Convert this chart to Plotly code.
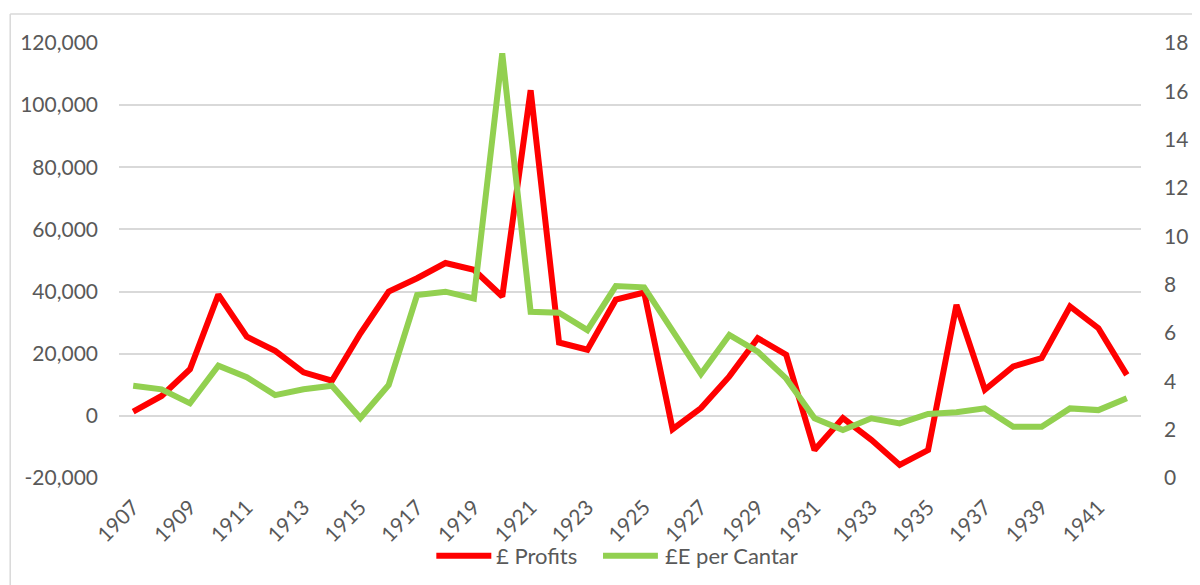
import plotly.graph_objects as go

years = list(range(1907, 1943))
profits = [1400, 6400, 15000, 39000, 25500, 20900, 14000, 11300, 26500, 40000,
           44300, 49200, 47000, 38400, 104800, 23600, 21300, 37400, 39700, -4300,
           2500, 12700, 25000, 19700, -11000, -700, -7700, -15800, -11000, 35700,
           8400, 15900, 18600, 35200, 28200, 13200]
per_cantar = [3.82, 3.67, 3.09, 4.65, 4.17, 3.43, 3.67, 3.82, 2.48, 3.85,
              7.57, 7.71, 7.43, 17.57, 6.88, 6.84, 6.12, 7.94, 7.89, 6.12,
              4.30, 5.92, 5.23, 4.12, 2.47, 1.99, 2.47, 2.26, 2.65, 2.72,
              2.88, 2.12, 2.12, 2.88, 2.81, 3.30]
left_ticks = [-20000, 0, 20000, 40000, 60000, 80000, 100000, 120000]
right_ticks = [0, 2, 4, 6, 8, 10, 12, 14, 16, 18]
x_ticks = years[::2]
series_names = ["£ Profits", "£E per Cantar"]
series_colors = ["#FF0000", "#92D050"]

FONT = "Lato"
GREY = "#595959"

fig = go.Figure()
fig.add_trace(go.Scatter(x=years, y=profits, name=series_names[0], mode="lines",
                         line=dict(color=series_colors[0], width=6), yaxis="y"))
fig.add_trace(go.Scatter(x=years, y=per_cantar, name=series_names[1], mode="lines",
                         line=dict(color=series_colors[1], width=6), yaxis="y2"))

W, H = 1192, 577
L, R, T, B = 109, 59, 35, 107
pw = W - L - R
ph = H - T - B
bx = (0 - L) / pw
by = (H - B - 6) / ph

# custom legend (paper coordinates)
leg_y = -0.1786
leg_items = [(0.3105, 0.3643, 0.3672), (0.4736, 0.5273, 0.5322)]
shapes = [
    dict(type="line", xref="paper", yref="paper", x0=bx, x1=1.2, y0=by, y1=by,
         line=dict(color="#D9D9D9", width=1.5)),
    dict(type="line", xref="paper", yref="paper", x0=bx, x1=bx, y0=-0.3, y1=by,
         line=dict(color="#D9D9D9", width=1.5)),
]
annotations = []
for (x0, x1, xt), name, col in zip(leg_items, series_names, series_colors):
    shapes.append(dict(type="line", xref="paper", yref="paper", x0=x0, x1=x1,
                       y0=leg_y, y1=leg_y, line=dict(color=col, width=6)))
    annotations.append(dict(xref="paper", yref="paper", x=xt, y=leg_y, text=name,
                            showarrow=False, xanchor="left", yanchor="middle",
                            font=dict(family=FONT, size=22, color=GREY)))

fig.update_layout(
    width=W, height=H,
    margin=dict(l=L, r=R, t=T, b=B),
    paper_bgcolor="white", plot_bgcolor="white",
    font=dict(family=FONT, size=21, color=GREY),
    showlegend=False,
    xaxis=dict(range=[years[0] - 0.5, years[-1] + 0.5], tickmode="array",
               tickvals=x_ticks, ticktext=[str(v) for v in x_ticks], tickangle=-45,
               showgrid=False, zeroline=False, showline=False, ticks="",
               ticklabelstandoff=12,
               tickfont=dict(family=FONT, size=21, color=GREY)),
    yaxis=dict(range=[-20000, 120000], tickmode="array", tickvals=left_ticks,
               ticktext=[f"{v:,}" for v in left_ticks], showgrid=True,
               gridcolor="#D9D9D9", gridwidth=1.5, zeroline=False, showline=False,
               ticks="", ticklabelstandoff=20,
               tickfont=dict(family=FONT, size=21, color=GREY)),
    yaxis2=dict(range=[0, 18], overlaying="y", side="right", tickmode="array",
                tickvals=right_ticks, ticktext=[str(v) for v in right_ticks],
                showgrid=False, zeroline=False, showline=False, ticks="",
                ticklabelstandoff=22,
                tickfont=dict(family=FONT, size=21, color=GREY)),
    shapes=shapes,
    annotations=annotations,
)

fig.write_html("out.html")
